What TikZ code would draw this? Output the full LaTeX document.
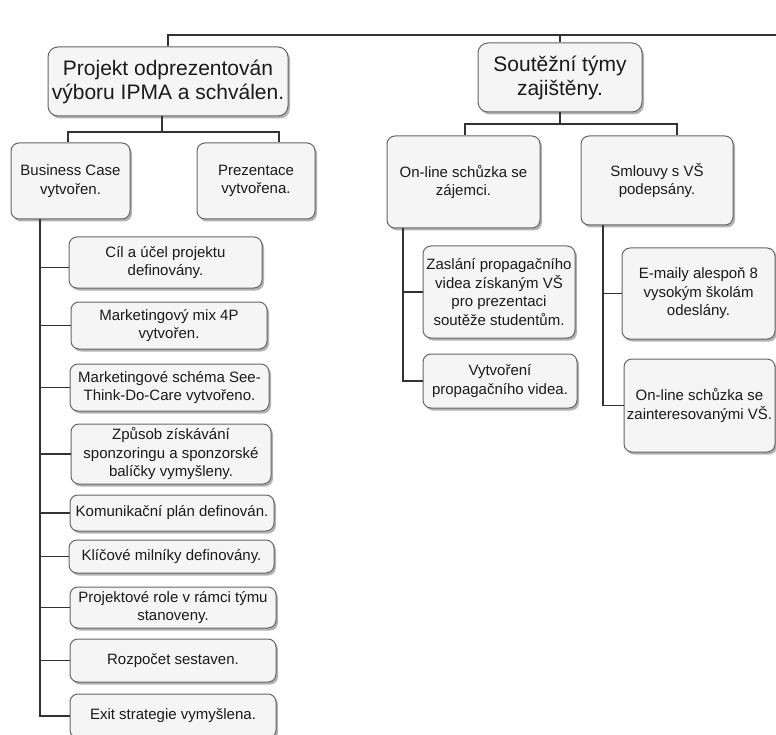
\documentclass[tikz,border=0pt]{standalone}
\usepackage{fontspec}
\setmainfont{Liberation Sans}
\usetikzlibrary{shadows}
\definecolor{boxfill}{HTML}{F5F5F5}
\definecolor{boxline}{HTML}{666666}
\definecolor{txt}{HTML}{1A1A1A}
\definecolor{edge}{HTML}{333333}
\tikzset{
 box/.style={draw=boxline, fill=boxfill, line width=1pt, rounded corners=8pt, inner sep=0pt, align=center, text=txt,
   drop shadow={shadow xshift=2pt, shadow yshift=-2.5pt, fill=black, opacity=0.3}},
 big/.style={box, font=\fontsize{21}{24}\selectfont, rounded corners=10pt},
 small/.style={box, font=\fontsize{15}{18.5}\selectfont},
 conn/.style={draw=edge, line width=1.2pt},
}
\newcommand\wbox[7]{\node[#2, minimum width={(#5-#3)*1pt}, minimum height={(#6-#4)*1pt}] (#1) at ({(#3+#5)/2},{(#4+#6)/2}) {#7};}
\begin{document}
\begin{tikzpicture}[x=1pt,y=-1pt]
\useasboundingbox (0,0) rectangle (776,735);
% connectors
\coordinate (tL) at (168,35);
\coordinate (tR) at (780,35);
\coordinate (j1) at (162,132);
\coordinate (j1L) at (68,132);
\coordinate (j1R) at (279,132);
\coordinate (j2) at (560,124);
\coordinate (j2L) at (465,124);
\coordinate (j2R) at (677,124);
\coordinate (v1) at (40,0);
\coordinate (v2) at (403,0);
\coordinate (v3) at (603,0);
% boxes
\wbox{p1}{big}{48}{47}{288}{116}{Projekt odprezentován\\výboru IPMA a schválen.}
\wbox{p2}{big}{478}{43}{642}{112}{Soutěžní týmy\\zajištěny.}
\wbox{bc}{small}{11}{143}{130}{219}{Business Case\\vytvořen.}
\wbox{pz}{small}{197}{143}{315}{219}{Prezentace\\vytvořena.}
\wbox{c1}{small}{69}{237}{262}{288}{Cíl a účel projektu\\definovány.}
\wbox{c2}{small}{71}{302}{267}{349}{Marketingový mix 4P\\vytvořen.}
\wbox{c3}{small}{70}{364}{269}{411}{Marketingové schéma See-\\Think-Do-Care vytvořeno.}
\wbox{c4}{small}{71}{424}{271}{484}{Způsob získávání\\sponzoringu a sponzorské\\balíčky vymyšleny.}
\wbox{c5}{small}{70}{495}{274}{531}{Komunikační plán definován.}
\wbox{c6}{small}{69}{540}{274}{573}{Klíčové milníky definovány.}
\wbox{c7}{small}{70}{587}{276}{628}{Projektové role v rámci týmu\\stanoveny.}
\wbox{c8}{small}{70}{639}{276}{682}{Rozpočet sestaven.}
\wbox{c9}{small}{70}{694}{276}{738}{Exit strategie vymyšlena.}
\wbox{oz}{small}{387}{136}{540}{228}{On-line schůzka se\\zájemci.}
\wbox{sm}{small}{581}{136}{733}{225}{Smlouvy s VŠ\\podepsány.}
\wbox{za}{small}{423}{246}{575}{338}{Zaslání propagačního\\videa získaným VŠ\\pro prezentaci\\soutěže studentům.}
\wbox{vy}{small}{423}{354}{577}{408}{Vytvoření\\propagačního videa.}
\wbox{em}{small}{622}{248}{775}{339}{E-maily alespoň 8\\vysokým školám\\odeslány.}
\wbox{ov}{small}{624}{359}{775}{452}{On-line schůzka se\\zainteresovanými VŠ.}
% lines
\draw[conn] (p1.north -| tL) -- (tL) -- (tR);
\draw[conn] (p2.north) -- (p2.north |- tR);
\draw[conn] (p1.south -| j1) -- (j1);
\draw[conn] (bc.north -| j1L) -- (j1L) -- (j1R) -- (pz.north -| j1R);
\draw[conn] (p2.south -| j2) -- (j2);
\draw[conn] (oz.north -| j2L) -- (j2L) -- (j2R) -- (sm.north -| j2R);
\draw[conn] (bc.south -| v1) -- (v1 |- c9.west) -- (c9.west);
\coordinate (c1s) at ([yshift=-5pt]c1.west);
\draw[conn] (v1 |- c1s) -- (c1s);
\foreach \n in {2,...,8} {\draw[conn] (v1 |- c\n.west) -- (c\n.west);}
\draw[conn] (oz.south -| v2) -- (v2 |- vy.west) -- (vy.west);
\draw[conn] (v2 |- za.west) -- (za.west);
\draw[conn] (sm.south -| v3) -- (v3 |- ov.west) -- (ov.west);
\draw[conn] (v3 |- em.west) -- (em.west);
\end{tikzpicture}
\end{document}
